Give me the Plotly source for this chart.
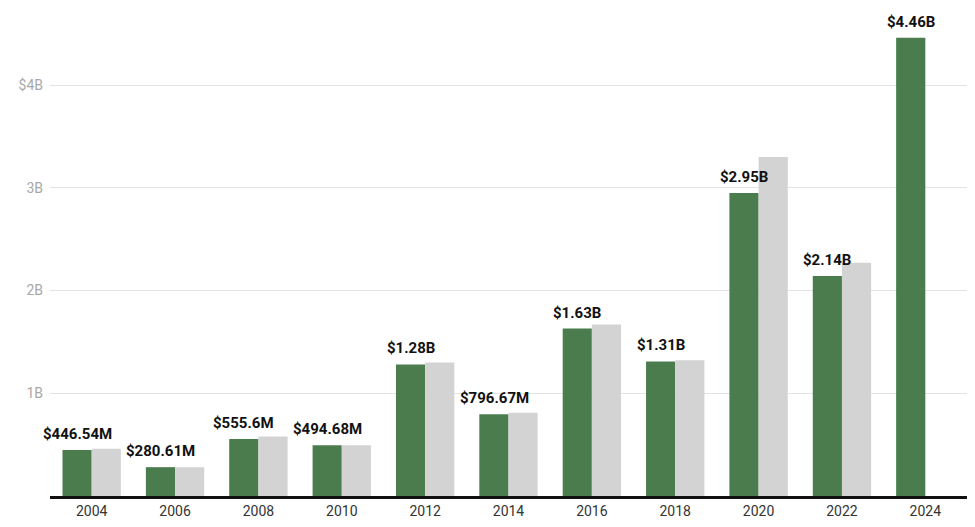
import plotly.graph_objects as go

years = ["2004", "2006", "2008", "2010", "2012", "2014", "2016", "2018", "2020", "2022", "2024"]
green_vals = [0.44654, 0.28061, 0.5556, 0.49468, 1.28, 0.79667, 1.63, 1.31, 2.95, 2.14, 4.46]
green_labels = ["$446.54M", "$280.61M", "$555.6M", "$494.68M", "$1.28B", "$796.67M",
                "$1.63B", "$1.31B", "$2.95B", "$2.14B", "$4.46B"]
gray_vals = [0.46, 0.28, 0.578, 0.495, 1.30, 0.81, 1.67, 1.32, 3.30, 2.27, None]

tick_vals = [1, 2, 3, 4]
tick_text = ["1B", "2B", "3B", "$4B"]

fig = go.Figure()
fig.add_trace(go.Bar(
    x=years, y=green_vals, marker=dict(color="#4a7c4e", line=dict(width=0)),
    hoverinfo="skip", name="A",
))
fig.add_trace(go.Bar(
    x=years, y=gray_vals, marker=dict(color="#d3d3d3", line=dict(width=0)),
    hoverinfo="skip", name="B",
))

# category axis: annotation x is the category's serial index
for i, (v, lab) in enumerate(zip(green_vals, green_labels)):
    fig.add_annotation(
        x=i, y=v, text=lab, showarrow=False,
        xanchor="center", yanchor="bottom", xshift=-14.5, yshift=5,
        font=dict(family="Roboto", size=15, color="#111111", weight="bold"),
    )

fig.update_layout(
    width=975, height=527,
    margin=dict(l=50, r=8, t=10, b=31),
    barmode="group", bargap=0.30, bargroupgap=0,
    showlegend=False,
    plot_bgcolor="white", paper_bgcolor="white",
    font=dict(family="Roboto"),
)
fig.update_xaxes(
    type="category", categoryorder="array", categoryarray=years,
    range=[-0.5, len(years) - 0.5],
    showgrid=False, showline=True, linecolor="#111111", linewidth=2.5,
    ticks="", tickfont=dict(family="Roboto", size=14, color="#333333"),
    fixedrange=True,
)
fig.update_yaxes(
    range=[0, 4.73], tickvals=tick_vals, ticktext=tick_text,
    showgrid=True, gridcolor="#e3e3e3", gridwidth=1,
    zeroline=False, showline=False, ticks="",
    tickfont=dict(family="Roboto", size=14, color="#a8a8a8"),
    ticklabelstandoff=6, layer="above traces",
)

fig.write_html("out.html", config={"displayModeBar": False},
               post_script="document.body.style.margin='0';document.body.style.overflow='hidden';")
